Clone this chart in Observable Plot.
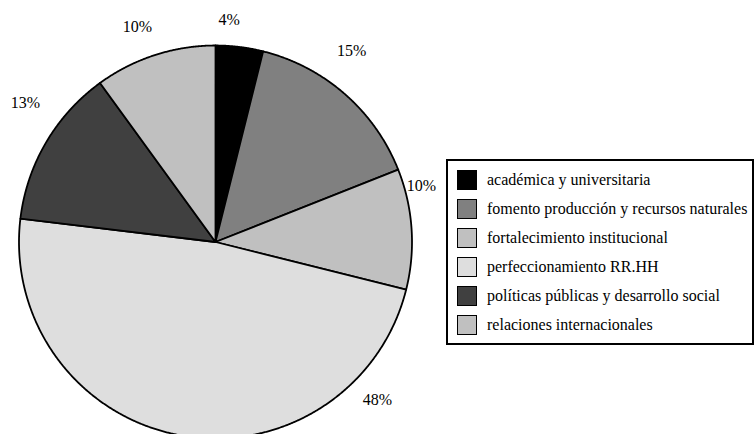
<!DOCTYPE html>
<html>
<head>
<meta charset="utf-8">
<script src="https://cdn.jsdelivr.net/npm/d3@7"></script>
<script src="https://cdn.jsdelivr.net/npm/@observablehq/plot@0.6"></script>
<style>
  body { margin: 0; background: #fff; }
  #wrap { position: relative; width: 755px; height: 434px; overflow: hidden; background: #fff;
          font-family: "Liberation Serif", Tinos, "Times New Roman", Times, "DejaVu Serif", serif; }
  #legend { position: absolute; left: 446px; top: 159px; width: 304px; height: 182px;
            border: 2px solid #000; background: #fff; }
  .item { position: absolute; left: 9px; height: 20px; display: flex; align-items: center;
          font-size: 16px; color: #000; white-space: nowrap;
          font-family: "Liberation Serif", Tinos, "Times New Roman", Times, "DejaVu Serif", serif; }
  .sw { width: 20px; height: 20px; box-sizing: border-box; border: 1.5px solid #000; margin-right: 10px; flex: none; }
  svg text { font-family: "Liberation Serif", Tinos, "Times New Roman", Times, "DejaVu Serif", serif !important; }
</style>
</head>
<body>
<div id="wrap"></div>
<script>
// ---- data ----
const categories = [
  "académica y universitaria",
  "fomento producción y recursos naturales",
  "fortalecimiento institucional",
  "perfeccionamiento RR.HH",
  "políticas públicas y desarrollo social",
  "relaciones internacionales"
];
// slice sizes as drawn (percent of circle)
const shares = [3.9, 15.1, 9.9, 48.0, 13.1, 10.0];
// printed data labels
const labels = ["4%", "15%", "10%", "48%", "13%", "10%"];
const colors = ["#000000", "#808080", "#c0c0c0", "#dedede", "#404040", "#c0c0c0"];

// ---- label layout (angle clockwise from top in degrees, distance in radii) ----
const labelAngle = [3.5, 35.4, 74.7, 134.2, 306.3, 340.1];
const labelDist = [1.135, 1.196, 1.087, 1.15, 1.2, 1.166];

// ---- build wedge geometry from data ----
const arcs = d3.pie().sort(null).value(d => d)(shares);
const pts = [];
arcs.forEach((a, i) => {
  const cat = categories[i];
  pts.push({cat, x: 0, y: 0});
  const n = Math.max(2, Math.ceil((a.endAngle - a.startAngle) / (Math.PI / 720)));
  for (let k = 0; k <= n; k++) {
    const t = a.startAngle + (a.endAngle - a.startAngle) * k / n;
    pts.push({cat, x: Math.sin(t), y: Math.cos(t)});
  }
  pts.push({cat, x: 0, y: 0});
});
const labelData = labels.map((text, i) => {
  const t = labelAngle[i] * Math.PI / 180;
  return {text, x: labelDist[i] * Math.sin(t), y: labelDist[i] * Math.cos(t)};
});

const R = 196.5, CX = 215, CY = 241.5;
const serif = "Liberation Serif, Tinos, Times New Roman, Times, DejaVu Serif, serif";
const chart = Plot.plot({
  width: 755,
  height: 434,
  margin: 0,
  style: {background: "transparent", fontFamily: serif},
  x: {domain: [-1, 1], range: [CX - R, CX + R], axis: null},
  y: {domain: [-1, 1], range: [CY + R, CY - R], axis: null},
  color: {type: "ordinal", domain: categories, range: colors},
  marks: [
    Plot.line(pts, {x: "x", y: "y", z: "cat", fill: "cat", stroke: "#000",
                    strokeWidth: 1.8, strokeLinejoin: "round", curve: "linear"}),
    Plot.text(labelData, {x: "x", y: "y", text: "text", fontSize: 16, fill: "#000",
                          fontFamily: serif})
  ]
});
const wrap = document.getElementById("wrap");
wrap.appendChild(chart);

// ---- legend ----
const legend = document.createElement("div");
legend.id = "legend";
categories.forEach((c, i) => {
  const item = document.createElement("div");
  item.className = "item";
  item.style.top = (9 + 29 * i) + "px";
  const sw = document.createElement("span");
  sw.className = "sw";
  sw.style.background = colors[i];
  const tx = document.createElement("span");
  tx.textContent = c;
  item.appendChild(sw);
  item.appendChild(tx);
  legend.appendChild(item);
});
wrap.appendChild(legend);
</script>
</body>
</html>
